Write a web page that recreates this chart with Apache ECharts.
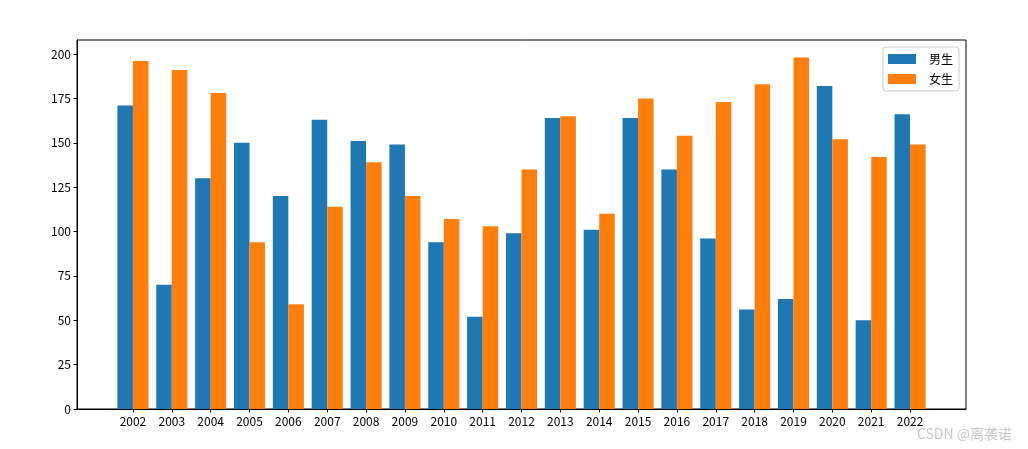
<!DOCTYPE html>
<html>
<head>
<meta charset="utf-8">
<script src="https://cdn.jsdelivr.net/npm/echarts@6/dist/echarts.min.js"></script>
<style>html,body{margin:0;padding:0;background:#fff}#c{width:1028px;height:449px}</style>
</head>
<body>
<div id="c"></div>
<script>
var years = ['2002','2003','2004','2005','2006','2007','2008','2009','2010','2011','2012','2013','2014','2015','2016','2017','2018','2019','2020','2021','2022'];
var boys  = [171, 70, 130, 150, 120, 163, 151, 149, 94, 52, 99, 164, 101, 164, 135, 96, 56, 62, 182, 50, 166];
var girls = [196, 191, 178, 94, 59, 114, 139, 120, 107, 103, 135, 165, 110, 175, 154, 173, 183, 198, 152, 142, 149];
var yTicks = [0, 25, 50, 75, 100, 125, 150, 175, 200];

var idx = years.map(function(_, i){ return i; });
var font = '"Noto Sans CJK SC", "DejaVu Sans", sans-serif';
var chart = echarts.init(document.getElementById('c'), null, {renderer: 'canvas'});
chart.setOption({
  animation: false,
  color: ['#1f77b4', '#ff7f0e'],
  grid: {left: 77, right: 62, top: 40, bottom: 40, show: true, borderColor: '#000', borderWidth: 1, backgroundColor: 'transparent'},
  legend: {
    orient: 'vertical', right: 69, top: 47,
    itemWidth: 28, itemHeight: 10, itemGap: 8,
    padding: [6, 6, 6, 5],
    borderColor: '#cccccc', borderWidth: 1, borderRadius: 3,
    icon: 'rect',
    textStyle: {fontFamily: font, fontSize: 12, color: '#000', padding: [0, 0, 0, 8]},
    data: ['男生', '女生']
  },
  xAxis: {
    type: 'value', min: -1.44, max: 21.44,
    splitLine: {show: false},
    axisLine: {show: true, onZero: false, lineStyle: {color: '#000'}},
    axisTick: {show: true, length: 3.5, lineStyle: {color: '#000'}, customValues: idx},
    axisLabel: {color: '#000', fontFamily: font, fontSize: 12, margin: 6, customValues: idx,
      formatter: function(v){ return years[Math.round(v)]; }}
  },
  yAxis: {
    type: 'value', min: 0, max: 207.9,
    splitLine: {show: false},
    axisLine: {show: true, onZero: false, lineStyle: {color: '#000'}},
    axisTick: {show: true, length: 3.5, lineStyle: {color: '#000'}, customValues: yTicks},
    axisLabel: {color: '#000', fontFamily: font, fontSize: 12, margin: 6, customValues: yTicks}
  },
  series: [
    {name: '男生', type: 'bar', barWidth: 15.54, barGap: '0%', data: boys.map(function(v, i){ return [i, v]; })},
    {name: '女生', type: 'bar', barWidth: 15.54, barGap: '0%', data: girls.map(function(v, i){ return [i, v]; })}
  ],
  graphic: [{
    type: 'text', right: 16, bottom: 8,
    style: {text: 'CSDN @离袭诺', fill: '#c8c8c8', font: '14px "Noto Sans CJK SC", sans-serif'}
  }]
});
</script>
</body>
</html>
